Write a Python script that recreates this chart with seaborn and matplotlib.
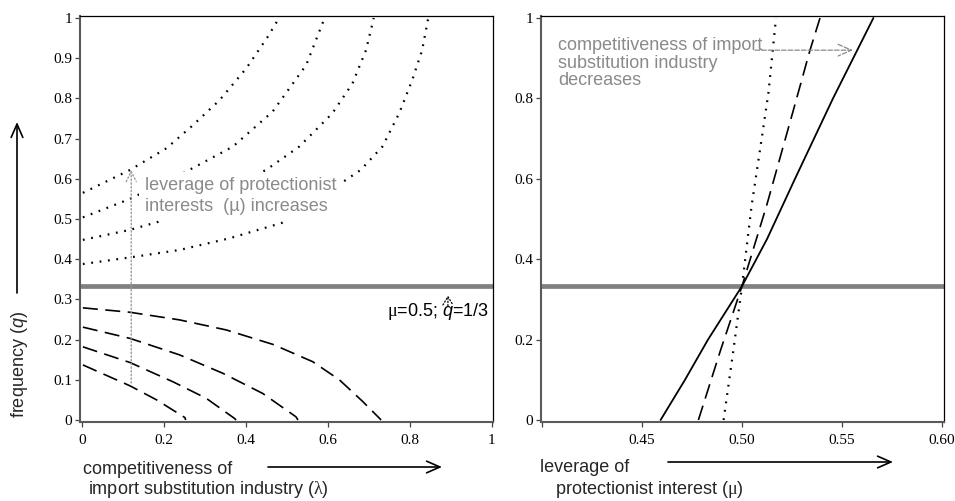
import matplotlib
matplotlib.use("Agg")
import matplotlib.pyplot as plt
import seaborn as sns

# ---- left panel: frequency q against competitiveness lambda
lam_dot1 = [0.002, 0.117, 0.206, 0.267, 0.336, 0.401, 0.453, 0.481]
q_dot1 = [0.565, 0.622, 0.676, 0.730, 0.796, 0.875, 0.953, 1.000]
lam_dot2 = [0.002, 0.117, 0.247, 0.368, 0.465, 0.547, 0.592]
q_dot2 = [0.504, 0.550, 0.614, 0.680, 0.767, 0.883, 1.000]
lam_dot3 = [0.002, 0.117, 0.186, 0.449, 0.530, 0.611, 0.660, 0.693, 0.712]
q_dot3 = [0.448, 0.473, 0.493, 0.622, 0.680, 0.763, 0.837, 0.920, 1.000]
lam_dot4 = [0.002, 0.121, 0.238, 0.360, 0.490, 0.680, 0.733, 0.774, 0.806, 0.830, 0.845]
q_dot4 = [0.388, 0.405, 0.423, 0.452, 0.491, 0.622, 0.680, 0.763, 0.846, 0.920, 1.000]

lam_dash1 = [0.002, 0.117, 0.238, 0.352, 0.466, 0.563, 0.628, 0.685, 0.730]
q_dash1 = [0.279, 0.268, 0.249, 0.224, 0.188, 0.145, 0.100, 0.046, 0.000]
lam_dash2 = [0.002, 0.117, 0.238, 0.344, 0.441, 0.522, 0.527]
q_dash2 = [0.231, 0.203, 0.162, 0.116, 0.066, 0.008, 0.000]
lam_dash3 = [0.002, 0.117, 0.222, 0.303, 0.372, 0.376]
q_dash3 = [0.182, 0.143, 0.095, 0.054, 0.004, 0.000]
lam_dash4 = [0.002, 0.117, 0.182, 0.251, 0.253]
q_dash4 = [0.137, 0.085, 0.050, 0.006, 0.000]

# ---- right panel: frequency q against leverage mu
mu_solid = [0.4593, 0.4715, 0.4830, 0.5000, 0.5125, 0.5265, 0.5455, 0.5657]
q_solid = [0.000, 0.100, 0.200, 0.333, 0.450, 0.600, 0.800, 1.000]
mu_dash = [0.4782, 0.4893, 0.5000, 0.5124, 0.5257, 0.5340, 0.5390]
q_dash = [0.000, 0.174, 0.333, 0.535, 0.771, 0.920, 1.000]
mu_dot = [0.4908, 0.4957, 0.5000, 0.5048, 0.5090, 0.5132, 0.5170]
q_dot = [0.000, 0.174, 0.333, 0.533, 0.672, 0.813, 1.000]

Q_STAR = 1 / 3

left_ticks_x = [0, 0.2, 0.4, 0.6, 0.8, 1]
left_ticks_y = [0, 0.1, 0.2, 0.3, 0.4, 0.5, 0.6, 0.7, 0.8, 0.9, 1]
right_ticks_x = [0.40, 0.45, 0.50, 0.55, 0.60]
right_labels_x = ["", "0.45", "0.50", "0.55", "0.60"]
right_ticks_y = [0, 0.2, 0.4, 0.6, 0.8, 1]

sns.set_theme(style="ticks")
plt.rcParams["font.family"] = ["Liberation Sans", "DejaVu Sans"]
plt.rcParams["mathtext.fontset"] = "custom"
plt.rcParams["mathtext.it"] = "Liberation Sans:italic"
plt.rcParams["mathtext.rm"] = "Liberation Serif"

GRAY_TXT = "#8a8a8a"
DOT = (0, (0.8, 3.0))
DASH = (0, (9, 4.5))
FS = 13

W, H = 955, 501
fig = plt.figure(figsize=(W / 100, H / 100), dpi=100)
ax1 = fig.add_axes([80 / W, 1 - 422 / H, (493 - 80) / W, (422 - 16) / H])
ax2 = fig.add_axes([541 / W, 1 - 422 / H, (944 - 541) / W, (422 - 16) / H])

def curve(ax, x, y, ls, lw):
    sns.lineplot(x=x, y=y, ax=ax, color="black", lw=lw, linestyle=ls,
                 estimator=None, sort=False)

for x, y in [(lam_dot1, q_dot1), (lam_dot2, q_dot2), (lam_dot3, q_dot3), (lam_dot4, q_dot4)]:
    curve(ax1, x, y, DOT, 1.6)
for x, y in [(lam_dash1, q_dash1), (lam_dash2, q_dash2), (lam_dash3, q_dash3), (lam_dash4, q_dash4)]:
    curve(ax1, x, y, DASH, 1.2)

curve(ax2, mu_solid, q_solid, "-", 1.3)
curve(ax2, mu_dash, q_dash, DASH, 1.2)
curve(ax2, mu_dot, q_dot, DOT, 1.6)

for ax in (ax1, ax2):
    ax.axhline(Q_STAR, color="#808080", lw=3.4, zorder=1)
    ax.set_xlabel("")
    ax.set_ylabel("")
    for s in ("top", "right"):
        ax.spines[s].set_color("black")
        ax.spines[s].set_linewidth(0.9)
    for s in ("left", "bottom"):
        ax.spines[s].set_color("#5a5a5a")
        ax.spines[s].set_linewidth(1.5)
    ax.tick_params(direction="out", length=3.5, width=0.9, color="#444444",
                   labelsize=11, pad=2, labelcolor="black")

ax1.set_xlim(-0.005, 1.003)
ax1.set_ylim(-0.005, 1.005)
ax1.set_xticks(left_ticks_x)
ax1.set_xticklabels(["0", "0.2", "0.4", "0.6", "0.8", "1"])
ax1.set_yticks(left_ticks_y)
ax1.set_yticklabels(["0", "0.1", "0.2", "0.3", "0.4", "0.5", "0.6", "0.7", "0.8", "0.9", "1"])

ax2.set_xlim(0.3995, 0.601)
ax2.set_ylim(-0.005, 1.005)
ax2.set_xticks(right_ticks_x)
ax2.set_xticklabels(right_labels_x)
ax2.set_yticks(right_ticks_y)
ax2.set_yticklabels(["0", "0.2", "0.4", "0.6", "0.8", "1"])

for ax in (ax1, ax2):
    ax.tick_params(axis="x", pad=5)
    for lab in ax.get_xticklabels() + ax.get_yticklabels():
        lab.set_family("Liberation Serif")

# annotations inside the panels
ax1.text(0.153, 0.557, "leverage of protectionist\ninterests  (µ) increases",
         color=GRAY_TXT, fontsize=FS, ha="left", va="center", linespacing=1.25,
         zorder=3, bbox=dict(facecolor="white", edgecolor="none", pad=4))
ax1.annotate("", xy=(0.12, 0.622), xytext=(0.12, 0.092),
             arrowprops=dict(arrowstyle="->,head_length=0.6,head_width=0.3",
                             color="#999999", lw=1.0, linestyle=":",
                             shrinkA=0, shrinkB=0), zorder=4)
ax1.text(0.745, 0.269, r"$\mathrm{μ}$=0.5; $q$=1/3", fontsize=FS,
         ha="left", va="center", color="black")
ax1.annotate("", xy=(0.893, 0.31), xytext=(0.893, 0.284),
             arrowprops=dict(arrowstyle="->,head_length=0.5,head_width=0.3",
                             color="black", lw=0.9, linestyle=":",
                             shrinkA=0, shrinkB=0))

ax2.text(0.408, 0.888, "competitiveness of import\nsubstitution industry\ndecreases",
         color=GRAY_TXT, fontsize=FS, ha="left", va="center", linespacing=1.05)
ax2.annotate("", xy=(0.5555, 0.92), xytext=(0.5065, 0.92),
             arrowprops=dict(arrowstyle="->,head_length=0.8,head_width=0.35",
                             color="#8a8a8a", lw=0.9, linestyle="--",
                             shrinkA=0, shrinkB=0))

# axis titles and arrows outside the panels (figure pixels)
def ftext(px, py, s, **kw):
    fig.text(px / W, 1 - py / H, s, fontsize=FS, **kw)

def farrow(p0, p1):
    ax1.annotate("", xy=(p1[0] / W, 1 - p1[1] / H), xytext=(p0[0] / W, 1 - p0[1] / H),
                 xycoords="figure fraction", textcoords="figure fraction",
                 arrowprops=dict(arrowstyle="->,head_length=0.8,head_width=0.35",
                                 color="black", lw=1.2, shrinkA=0, shrinkB=0))

ftext(20, 365, r"frequency ($q$)", rotation=90, ha="center", va="center")
farrow((17, 293), (17, 122))
ftext(83, 469, "competitiveness of", ha="left", va="center")
ftext(88, 490, r"import substitution industry ($\mathrm{λ}$)", ha="left", va="center")
farrow((268, 467), (442, 467))
ftext(540, 467, "leverage of", ha="left", va="center")
ftext(555, 489, r"protectionist interest ($\mathrm{μ}$)", ha="left", va="center")
farrow((668, 462), (893, 462))

fig.savefig("out.png", dpi=100)
